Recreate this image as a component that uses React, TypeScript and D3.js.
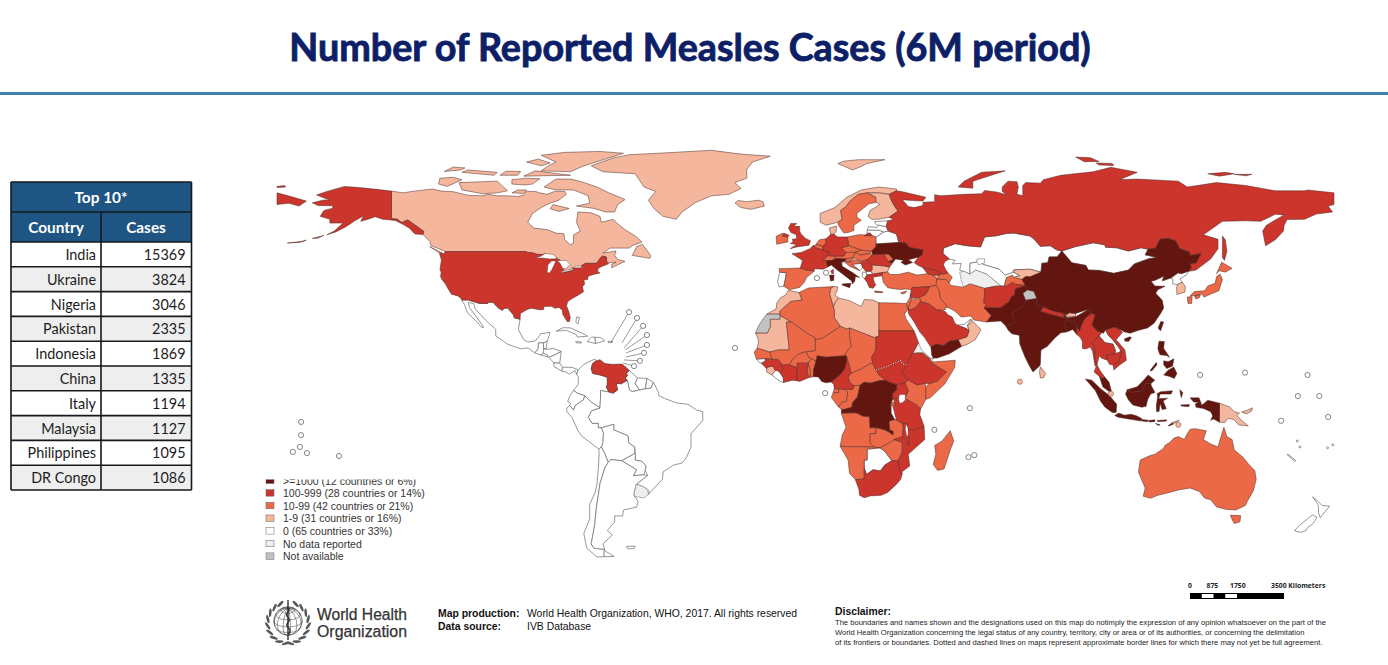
import * as d3 from "d3";

// class values, from the legend
const legendLabels = [
  ">=1000 (12 countries or 6%)",
  "100-999 (28 countries or 14%)",
  "10-99 (42 countries or 21%)",
  "1-9 (31 countries or 16%)",
  "0 (65 countries or 33%)",
  "No data reported",
  "Not available",
];
const legendColors = ["#63160f", "#cc352c", "#ec6947", "#f4b69c", "#ffffff", "#efefef", "#c2c2c2"];

const topCountries = ["India", "Ukraine", "Nigeria", "Pakistan", "Indonesia", "China", "Italy", "Malaysia", "Philippines", "DR Congo"];
const topCases = [15369, 3824, 3046, 2335, 1869, 1335, 1194, 1127, 1095, 1086];

const disclaimerLines = [
  "The boundaries and names shown and the designations used on this map do notimply the expression of any opinion whatsoever on the part of the",
  "World Health Organization concerning the legal status of any country, territory, city or area or of its authorities, or concerning the delimitation",
  "of its frontiers or boundaries. Dotted and dashed lines on maps represent approximate border lines for which there may not yet be full agreement.",
];
const scaleBarTicks = [0, 437.5, 875, 1312.5, 1750, 3500];
const scaleBarLabels = ["0", "875", "1750", "3500 Kilometers"];
const scaleBarLabelKm = [0, 875, 1750, 3500];

type Shape = [string, string[]];

// outlines are lon lat pairs, split in the seven legend classes
const over1000: Shape[] = [
  ["India", ["75 32.4,78.8 33,78.5 31,81 30.2,80 28.6,84 27.5,88.1 26.4,88 28,89 26.5,92 26.8,96.5 29.4,97.3 28,95 26,94 24,93.3 22,92.3 23.7,92 25,89.8 25.3,89 26,88.3 24.5,88.9 21.6,87 21.4,85 19.7,82.3 16.7,80.2 15.5,80 11,79.9 10.2,77.5 8,76.4 9.8,74.8 13,73 17.5,72.8 20.5,70.3 21,69 22.3,68.2 23.7,71 24.5,71 26,70 27.8,73 29.5,74.6 31"]],
  ["Bangladesh", ["88.3 24.5,89 26,89.8 25.3,92 25,92.3 23.7,92.4 20.8,91 22.5,88.9 21.6"]],
  ["Pakistan", ["60.9 29.8,66.4 29.9,69.3 31.9,70 33.5,71.2 34.3,71.5 36.3,74.9 37.4,75.5 36,74 34.7,74.7 33,75 32.4,74.6 31,73 29.5,70 27.8,71 26,71 24.5,68.2 23.7,66.5 25.4,61.7 25,63.3 27.2"]],
  ["China", [
    "73.7 39.5,75 40.5,76.5 40.4,80.2 42,80.5 45,82.5 45.2,83 47.2,85.7 47.2,87.3 49.2,90.7 45.2,95.5 44.3,96.3 42.7,100 42.6,105 41.6,110 42.7,112 44.8,117 46.6,119.8 47,115.7 47.9,116.7 49.8,119.3 50.2,120.7 53.2,123.5 53.5,126 52.7,127.5 50,130.7 48.9,131 47.7,134.7 48.3,133 45.1,131 44.9,131.3 43.4,130.6 42.4,128 41.5,126.9 41.8,124.4 40,121.5 39,122 40.6,119 39.2,117.7 38.9,119 37.3,122.5 37.2,120 36,119.3 34.8,121.5 32.4,121.8 30.9,122 29.8,121 28,118.7 24.6,116.5 23,113.5 22.2,110.5 21.2,108.5 21.7,106.7 22.7,105.3 23.3,102.2 22.4,101.5 21.2,99.2 22.1,97.6 24,98.7 27.5,97.3 28,96.5 29.4,92 27.9,89.8 28.2,88.8 27.4,88.1 27.9,84 28.9,81 30.2,78.5 31,78.8 33,77.8 35.5,75.5 36,74.9 37.4",
    "108.7 19.3,110.5 20,111 19.7,110 18.4,108.7 18.6",
    "120.1 23,121 25.2,122 25,120.9 22",
  ]],
  ["Yemen", ["42.7 16.4,43 16.7,44.5 17.5,47 17,49 18.5,52 19,53.1 16.7,49 14.2,45 12.8,43.5 12.7,43 13.7"]],
  ["Ukraine", ["22.5 49.1,24.1 50.8,23.9 51.6,31.8 52.1,34 52,35.5 50.4,38 49.9,40 49.6,39.7 47.9,38.5 47.1,35 46.2,36.5 45.3,34 44.4,32.5 45.4,33.5 46,30.7 46.5,29.7 45.2,28.2 45.5,30 46.4,28.2 48.2,26.6 48.2,22.9 48"]],
  ["Italy", [
    "7.4 43.7,7.6 44,7 45.9,9 46,10.4 46.7,13.7 46.5,13.5 45.7,12.3 45.3,12.5 44,16 41.9,18.4 40.2,17 40.5,16.8 39,16 38,15.7 39,12.5 41.5,10.5 43,8.8 44.4",
    "12.5 38,15.5 38.2,15 36.7,12.5 37.6",
    "8.2 41,9.7 41,9.6 39.2,8.5 39",
  ]],
  ["Nigeria", ["2.8 9,3.6 11.7,4 13.5,7 13,10 13.3,13.7 13.5,14 13,13.9 11.5,13.3 9,11.5 6.8,8.7 4.6,7 4.3,5.5 4.8,4.4 6.3,2.7 6.4"]],
  ["DR Congo", ["18.6 3.5,20 4.5,22 4.2,25 5,27.3 5.2,28.5 4.5,31 3.7,31 1.9,29.6 .5,29.6 -1.4,29 -2.8,29.1 -4.5,29.4 -6.5,30.7 -8.2,28.9 -8.5,28.4 -9.2,28.7 -11.8,29.8 -12.2,29.8 -13.4,28.4 -12.4,27 -11.7,24 -10.9,22 -11,21.8 -7.2,19.5 -7,17.6 -6,16.5 -5.9,12.2 -6,12.2 -4.7,13 -4.8,15.8 -4,16 -2.5,17.7 -.5"]],
  ["Malaysia", [
    "100.1 6.5,101 5.8,102 6.2,103.4 4.5,104.2 1.4,103.5 1.3,101.3 2.9,100.4 5.5",
    "109.6 2,111 1,113 1.4,114.7 1.5,115.8 4.2,117.7 4.2,119 5.2,116.7 7,115.3 5.4,113 3,111.3 2.5",
  ]],
  ["Philippines", [
    "120.4 18.5,122.2 18.4,122 16,124 13,123 13.6,120.7 13.9,120 16",
    "122 7,123.5 8.6,125.4 9.7,126.5 7.5,125.6 5.8,124 6.5",
    "122 11.8,123.5 11.5,125.5 12.5,125 10,123 9.2,122 10.5",
    "117.3 8.4,119.5 11.3,119.7 10.5,118 8.4",
  ]],
  ["Indonesia", [
    "95.3 5.6,97.5 5.2,100.5 2.3,103.5 0,106 -3,105.8 -5.8,104.5 -5.8,102 -4,100.5 -2,98.7 1.7",
    "105.3 -6.8,106.7 -6,108.6 -6.7,110.8 -6.4,112.7 -6.9,114.5 -7.8,114.4 -8.7,110 -8,106.5 -7.4",
    "109 .5,109.6 2,111 1,113 1.4,114.7 1.5,115.8 4.2,117.7 4.2,117.7 3.5,119 1,117.5 .5,116.5 -1.5,116 -3.7,114.5 -4,111.5 -3.2,110 -1.5",
    "119.8 .7,121 1.3,125 1.6,124.5 .5,120.8 .5,120.3 -1,122 -1,123.3 -.9,121.8 -1.9,122.9 -4.5,121.5 -4.8,120.8 -2.7,120.4 -5.5,119.5 -5.4,119.5 -3.3,119.9 -.8",
    "127.5 2,128.5 1,128 -.8,127.7 .5",
    "127.8 -3.2,130.8 -3.1,130.5 -3.8,128 -3.6",
    "131 -.8,134 -.8,135 -3.3,137 -1.6,141 -2.6,141 -9.1,139 -8,138 -8.4,138.7 -7,138 -5.5,135.5 -4.4,133 -4,132.8 -2.8,134 -2.3,132.2 -2.2",
    "114.6 -8.2,116.7 -8.4,116.5 -8.9,114.6 -8.7",
    "116.8 -8.5,119 -8.3,119 -8.9,117 -9",
    "119.8 -8.5,123 -8.3,122.9 -8.7,120 -8.9",
    "119.2 -9.5,120.8 -10,120.2 -10.2",
    "123.5 -10.3,125 -9.2,125 -9.9,124 -10.3",
  ]],
];

const over100: Shape[] = [
  ["USA", [
    "-124.7 48.4,-123 48.3,-122.8 49,-95.2 49,-94.6 48.7,-93 48.6,-91.5 48.1,-89.6 48,-88.4 48.3,-84.9 46.9,-84.5 46.5,-83.6 46.1,-83.5 45.8,-82.5 45.3,-82.1 43.6,-82.5 42.6,-83.1 42.1,-82.7 41.7,-79 42.7,-79 43.3,-79.2 43.5,-76.8 43.6,-76.3 44.2,-75 45,-71.5 45,-70.8 45.4,-70.3 46.2,-70 46.7,-69.2 47.45,-68.3 47.35,-67.8 47.1,-67.8 45.7,-67 44.9,-68.5 44.3,-70 43.7,-70.7 43,-70.8 42.3,-70 41.7,-71.5 41.4,-74 40.7,-74.2 39.5,-75.5 39.3,-75.2 38,-76 37,-75.6 35.3,-77.9 33.9,-79.5 33,-81 32,-81.4 30.5,-80.6 28.5,-80.1 26.5,-80.4 25.2,-81.2 25.2,-81.8 26.2,-82.7 27.7,-82.8 29,-84 30,-85.3 29.7,-86.5 30.4,-89 30.3,-89.3 29.2,-90.5 29.2,-93.5 29.7,-94.8 29.3,-97.1 27.9,-97.2 25.96,-99.1 26.4,-99.5 27.5,-101.4 29.77,-102.7 29.7,-103.2 29,-104.5 29.7,-106.5 31.75,-108.2 31.75,-108.2 31.33,-111 31.33,-114.8 32.5,-117.1 32.53,-117.3 33,-118.4 33.9,-120.6 34.5,-121.9 36.6,-122.5 37.8,-123.8 39.5,-124.3 40.4,-124.1 42,-124.5 42.8,-124 46.2",
    "-141 69.6,-141 60.3,-139 60,-137.5 58.9,-135.5 59.8,-133.5 58.4,-130 55.9,-130.3 54.8,-133 55,-135 57,-137 58.2,-139.7 59.6,-144 60,-146.5 60.9,-149 60,-151.5 59.3,-150.5 61.2,-153.5 59.5,-156.5 57.5,-160 55.7,-163 54.7,-160.5 56,-157.5 58.7,-162 58.7,-162 60,-165.3 61,-164 63,-161 63.8,-161 64.6,-166 64.7,-168 65.6,-164 66.6,-162 66.5,-166.5 68.3,-163 69.5,-157 71.2,-152 70.8,-146 70.2",
    "-176.5 51.9,-172 52.4,-170 52.9,-172 52.2",
    "-168 53.5,-165 54.2,-164 54.6,-166 53.6",
  ]],
  ["Russia", [
    "31 69.7,33 69.4,41 67.5,40 66.2,35 66.5,33 66.7,35 64.4,37 64,40 64.7,40 65.8,44 66,44 68.4,46 68,54 68.5,60 68.7,61 69.8,65 69.3,68.5 68.4,67 69.5,67 71,69 73,72 72.8,72.5 71,72 68.5,74 68,74 71.5,75 72.5,80 72.3,81 73.5,87 75,98 76.2,104 77.7,113 76,107 73.5,113 73.7,127 73,130 71,134 71.6,140 72.5,150 71.5,160 69.7,170 69.7,171 70,180 69,180 65,178 64.5,179.5 62.5,174 61.8,170 60,164 59.9,163 57.8,162.8 56,160 53,156.7 51,155.7 56,157 58,163 61.5,160 61.7,155 59.3,150 59.5,142 59.3,135.5 54.7,140.5 53.2,140.5 50,138 46.5,133 42.7,130.7 42.3,131.3 43.4,131 44.9,133 45.1,134.7 48.3,131 47.7,130.7 48.9,127.5 50,126 52.7,123.5 53.5,120.7 53.2,119.3 50.2,116.7 49.8,114.3 50.3,110 49.2,106 50.3,102.2 50.5,102 51.3,98 52,92 50.7,87.3 49.2,85.5 49.6,83.4 51,80 50.8,77.8 53.3,76.5 54.3,71 55.3,68.5 55.2,65 54.4,61 54,59.6 50.6,55 51,51 51.7,47 50.2,46.8 48.4,49 46.5,47.5 45.6,47 44.5,47.7 43,48.5 41.8,47 41.3,44 42.7,40 43.5,38 44.5,37 45.3,38.5 47.1,39.7 47.9,40 49.6,38 49.9,35.5 50.4,34 52,31.8 52.1,31 55,28.2 56,27.5 57.5,28 59.5,30 59.9,28.5 60.7,31.5 62.8,30 65,29 67,28.5 68.5",
    "-180 69,-175 67.7,-170 66.2,-172.5 64.5,-176 65.5,-180 65",
    "-180 71.2,-177.5 71.5,-177 71,-180 70.8",
    "52 71,57 70.6,57 73,68 76.5,60 76,54 73",
    "92 81.2,97 81,100 79.7,95 79.6",
    "99 79.2,104.5 79,105 78.3,100 78.5",
    "137 75.5,143 76,146 75.5,141 74.7",
    "146 75.3,152 75.3,150 74.8",
    "142 54.3,143 53,143.5 49,142.7 46,142 47,142 50.5",
    "20 54.4,22.8 54.4,22 55.3,21 55.2",
  ]],
  ["Venezuela", ["-72.5 10.9,-71.3 11.8,-70 12.2,-68.3 10.9,-66 10.6,-62.5 10.7,-61 9.5,-60 8.5,-61 7.5,-60.6 6.8,-61.4 5.9,-60.7 5.2,-62.7 4,-64.5 4.1,-64 1.9,-65.5 .8,-66.3 1,-67 1.2,-67.8 2.8,-67.5 3.8,-67.5 6.2,-70 7,-72.5 7.5,-73 9.2"]],
  ["UK", [
    "-5.2 50,-3 50.6,1.2 51.2,1.7 52.7,0 53.5,-1.5 55,-2 56,-2 57.6,-4 57.6,-3 58.6,-5 58.6,-5.8 57,-5 55.5,-3.2 54.8,-3 53.4,-4.5 53.2,-4.2 52.2,-5.2 51.8,-3 51.4",
    "-7.2 55.2,-5.6 54.6,-6 54,-7.8 54.3",
  ]],
  ["France", [
    "-1.8 43.4,-1 46,-4.6 48.3,-1.5 48.7,1.5 50,2.5 51,4.2 50,5.8 49.6,8.2 49,7.6 47.6,6 46.2,7 45.9,7.6 44,7.4 43.7,6 43,3 43.2,3 42.4,.5 42.7",
    "8.6 42.4,9.5 43,9.5 41.5,9 41.5",
  ]],
  ["Germany", ["6 50.8,7 52,7 53.4,8.6 54.9,9.7 54.9,11 54,14.2 54,14.7 51,12.2 50.3,13.8 48.7,13 47.5,9.6 47.5,7.6 47.6,8.2 49,5.8 49.6"]],
  ["Romania", ["21 46.2,22.9 48,26.6 48.2,28.2 45.5,29.7 45.2,28.6 43.7,27 44.1,22.6 44.5"]],
  ["Serbia", ["19 45.6,21 46.2,22.6 44.5,22.7 43,22.3 42.3,20.5 42.3,19.5 43.5,19 45"]],
  ["Greece", [
    "20.1 39.7,20.9 41,22.9 41.3,26.3 41.9,26 40.8,23 40.3,23.5 38.3,24 37.7,23 36.5,21.7 36.8,21 38.5",
    "23.6 35.6,26.3 35.3,26.2 35,23.6 35.2",
  ]],
  ["Georgia", ["40 43.5,44 42.7,46.5 41.5,45.5 41,43.5 41,41.5 41.5"]],
  ["Saudi Arabia", ["34.9 29.5,36 29.2,37.5 30,38 30.5,39.2 32,42 31.2,44.7 29.2,46.5 29,47.7 28.5,48.5 27.5,50 26.7,50.8 24.8,51.6 24,55 22.7,55.7 22,55 20,52 19,49 18.5,47 17,44.5 17.5,43 16.7,42.7 16.4,40.5 19.8,39 21.5,37 25,35 28"]],
  ["Syria", ["36.2 36.7,38 36.8,42.3 37.1,41 34.5,38.8 33.4,36 33,35.8 34.7,36 36"]],
  ["Afghanistan", ["61 36.5,64.5 37.2,66.5 37.3,68.5 37.2,70.5 38.5,71.5 37.9,74.9 37.4,71.5 36.3,71.2 34.3,70 33.5,69.3 31.9,66.4 29.9,60.9 29.8,61.7 31.3,60.7 31.5,61 34.5"]],
  ["Nepal", ["80 28.6,81 30.2,84 28.9,88.1 27.9,88.1 26.4,84 27.5"]],
  ["Myanmar", ["92.4 20.8,92.3 23.7,93.3 22,94 24,95 26,97.3 28,98.7 27.5,97.6 24,99.2 22.1,101 21.7,100 20.3,97.7 18,98.7 16,98.5 13,99.2 10.5,98.6 10,97.8 15,97 16.5,95.4 15.8,94.3 16,94.3 18.5,93.5 19.8"]],
  ["Thailand", ["97.7 18,100 20.3,102 18,104.7 17.5,105.5 15.5,105.5 14.2,102.5 13.8,102.8 12,100.9 12.7,100 13.5,99.3 10.5,100.3 8.5,102 6.2,101 5.8,100.1 6.5,98.3 8,99.2 10.5,98.5 13,98.7 16"]],
  ["Vietnam", ["102.2 22.4,105.3 23.3,106.7 22.7,108 21.5,105.8 19,108.8 15.5,109.3 12,107 10.4,105 8.7,104.8 10.4,106.8 11.6,107.5 15,106.8 16.3,104.9 18.7,103 20.7"]],
  ["Cambodia", ["102.8 12,103.5 10.6,104.8 10.4,106.8 11.6,107.5 15,105.5 14.2,102.5 13.8"]],
  ["Sudan", ["24 20,25 20,25 22,37 22,38.5 18,36.5 14.3,34.3 10.5,33 10.8,32.5 12,27 9.6,24 8.7,22.9 11,22.5 13,24 15.5,24 19.5"]],
  ["South Sudan", ["24 8.7,27 9.6,32.5 12,33 10.8,34.3 10.5,33 7.8,35 5.3,33.9 4.2,31 3.7,28.5 4.5,27.3 5.2,25 7"]],
  ["Ethiopia", ["34.3 10.5,36.5 14.3,38 14.5,40 14.5,42.4 12.5,43 11.5,42.9 11,44 10.4,48 8,45 5,42 4,40.8 4.2,38 3.6,35 5.3,33 7.8"]],
  ["Uganda", ["31 3.7,33.9 4.2,35 1.7,33.9 -1,30 -1,29.6 -1.4,29.6 .5,31 1.9"]],
  ["Tanzania", ["30 -1,33.9 -1,37.7 -3.2,39.2 -4.6,38.9 -6.5,39.5 -8,40.4 -10.5,37.5 -11.6,34.5 -11.6,34.5 -9.6,32.9 -9.4,30.7 -8.2,29.4 -6.5,29.1 -4.5,30.5 -3,30.5 -2.4"]],
  ["Malawi", ["33.3 -10.8,32.9 -9.4,34.5 -9.6,34.5 -12,35.5 -14.5,35.2 -17,34.3 -15.5,33 -14"]],
  ["Mozambique", ["34.5 -11.6,37.5 -11.6,40.4 -10.5,40.6 -15,35 -20,35.5 -24,32.9 -26,32.9 -26.9,32 -25.8,31.5 -22.3,32.9 -19.5,33 -16,30.2 -15,33 -14,34.3 -15.5,35.2 -17,35.5 -14.5,34.5 -12"]],
  ["South Africa", ["17 -28.7,20 -28.4,20 -24.8,20.8 -26.9,23 -25.3,25.5 -25.7,27 -23.7,29.4 -22.2,31.5 -22.3,32 -25.8,32.9 -26.9,32.4 -28.6,31 -30.2,28 -33,25.7 -34,22 -34.2,20 -34.8,18.4 -34,18.2 -32"]],
  ["Cameroon", ["8.7 4.6,11.5 6.8,13.3 9,13.9 11.5,14 13,15 10,15.5 7.5,14.5 6.3,15 4.5,16.5 3.3,16 2,13.2 2.2,9.8 2.3,9.6 3.8"]],
  ["Guinea", ["-13.7 12.6,-11.4 12.3,-9.5 12.3,-8.5 11.4,-8 10.3,-7.7 8.4,-8.5 7.6,-9.5 8.5,-10.3 8.5,-11 10,-12.5 9.8,-13.3 9.2,-15 10.9,-13.7 11.7"]],
  ["Cote d'Ivoire", ["-8.5 7.6,-7.7 8.4,-8 10.3,-6.2 10.5,-5.5 10.4,-2.8 9.5,-2.9 5,-4.5 5.2,-7.5 4.4,-7.5 5.9"]],
  ["Ghana", ["-2.8 11,.9 11,.5 8,1.2 6.1,-2 4.8,-2.9 5,-2.8 9.5"]],
];

const over10: Shape[] = [
  ["Spain", ["-9 43.2,-1.8 43.4,.5 42.7,3 42.4,.2 40,-.3 38.7,-2 36.8,-5.5 36,-7.4 37.2,-7 39,-6.5 41.8,-8.8 42"]],
  ["Ireland", ["-10 54.2,-8 55.2,-7.2 55.2,-7.8 54.3,-6 54,-6 52.3,-9.8 51.5"]],
  ["Sweden", ["11 59,12.5 60,12.3 61,12 63,14 64.5,15 66,18 68.5,21 69,23.9 67.5,24 65.8,21.5 65.2,17.5 62,17.5 60.7,19 59.7,16.5 58,16.5 56.2,14.2 55.4,13 55.4,11.2 58"]],
  ["Belgium", ["2.5 51,4.2 51.4,6 50.8,5.8 49.6,4.2 50"]],
  ["Netherlands", ["3.5 51.4,4.7 53,7 53.4,7 52,6 50.8,4.2 51.4"]],
  ["Switzerland", ["6 46.2,7.6 47.6,9.6 47.5,10.4 46.7,9 46,7 45.9"]],
  ["Austria", ["9.6 47.5,13 47.5,13.8 48.7,17 48.8,16.2 46.9,13.7 46.5,10.4 46.7"]],
  ["Poland", ["14.2 54,18.5 54.8,22.8 54.4,23.9 54,24.1 50.8,22.5 49.1,19 49.5,14.7 51"]],
  ["Czechia", ["12.2 50.3,14.7 51,19 49.5,17 48.8,13.8 48.7"]],
  ["Slovakia", ["17 48.8,19 49.5,22.5 49.1,22 48.4,18.5 47.8"]],
  ["Hungary", ["16.2 46.9,17 48.8,18.5 47.8,22 48.4,22.9 48,21 46.2,18.5 45.9"]],
  ["Slovenia", ["13.7 46.5,16.2 46.9,15.5 45.5,13.5 45.5"]],
  ["Croatia", ["13.5 45.3,15.5 45.5,16.2 46.3,19 45.6,19 45,15.8 44.7,18.5 42.5,15 44"]],
  ["Moldova", ["26.6 48.2,28.2 48.2,30 46.4,28.2 45.5"]],
  ["Turkey", ["26 40.6,26.3 41.9,28 42,29 41.2,31.5 41.2,35 42,38 41,41.5 41.5,43.5 41,44.7 39.7,44.5 37.5,42.3 37.1,38 36.8,36.2 36.7,36 36,34 36.3,32.5 36.1,30.5 36.3,28 36.7,26.5 38.5,26.2 40"]],
  ["Cyprus", ["32.4 35,34.5 35.6,33.9 34.8,32.8 34.6"]],
  ["Iraq", ["42.3 37.1,44.5 37.5,45.5 35.8,46 33,47.8 31,48.5 30,47.7 30,47.7 29.3,46.5 29,44.7 29.2,42 31.2,39.2 32,38.8 33.4,41 34.5"]],
  ["Jordan", ["35 29.5,36 29.2,37.5 30,38 30.5,39.2 32,38.8 33.4,36 32.4,35.5 31.5"]],
  ["Israel, Lebanon", ["34.3 31.3,35.5 33.2,35.8 34.7,36 33,36 32.4,35.5 31.5,34.9 29.5"]],
  ["Iran", ["44.7 39.7,48 39.5,48.9 38.4,49.5 37.5,53.8 36.9,56 38,61 36.5,61 34.5,60.7 31.5,61.7 31.3,60.9 29.8,63.3 27.2,61.7 25,57.3 25.7,56.3 27.1,53 26.7,50.8 28.8,48.5 30,47.8 31,46 33,45.5 35.8,44.5 37.5"]],
  ["Azerbaijan", ["46.5 41.5,47 41.3,48.5 41.8,50 40.3,48.9 38.4,48 39.5,44.7 39.7,45.5 41"]],
  ["Tajikistan", ["67.7 37.2,68.5 40.2,70.5 41,71 40.2,73.7 39.5,74.9 37.4,71.5 37.9,70.5 38.5,68.5 37.2"]],
  ["Japan", [
    "131 34,132.5 35.4,136 35.7,137 37.3,139.5 38.2,140 40.5,141.2 41.3,142 39.5,140.8 35.7,138.5 34.7,135.7 33.5,135 34.6,132.5 34",
    "130 33.5,131.7 33.7,131.5 31.3,130.3 31.3",
    "132.5 33.9,134.5 34.2,134.2 33.4,133 32.8",
    "140 41.5,141.7 45.4,145.3 43.3,143 42,141 42.5",
  ]],
  ["Australia", [
    "113.4 -26,114 -22,117 -20.6,119 -20,122 -18,122.4 -17,124 -16,125.5 -14.5,127 -14,129 -15,130 -13,131 -11.5,132.7 -11.3,136.5 -12,136 -13.5,135.5 -15,138 -16.5,140.5 -17.5,141.5 -14,142.5 -10.8,143.5 -14,145.3 -15,146 -18.5,149 -21,151 -23.5,153 -25.5,153.5 -28.5,152.5 -32.5,150.5 -36,149.8 -37.5,146.5 -39,143.5 -38.8,140 -38,138 -35.5,136 -35,135.7 -34.7,134.3 -32.8,131 -31.5,127 -32.2,124 -33,120 -34,117.5 -35,115 -34.3,115.7 -31.5,114.2 -28",
    "144.7 -40.8,148.2 -40.9,148 -43,146 -43.6,145.2 -42",
  ]],
  ["Algeria", ["-1.7 34,-2.2 35.1,1 36.6,9.5 37.1,8.6 36.5,8.2 34.5,9.5 30.2,9.8 29,9.8 26.5,11.9 23.5,5.8 19.5,3.3 19,3.1 19.8,1.1 20.8,-4.8 25,-8.7 27.3,-8.7 28.7,-5 32,-1.2 32.5"]],
  ["Egypt", ["25 31.6,31 31.5,34.2 31.3,34.9 29.5,34 28,33.6 28.2,34.3 26,37 22,25 22"]],
  ["Chad", ["15 23,24 19.5,24 15.5,22.5 13,22.9 11,22 10.8,19 9,15.5 7.5,15 10,14 13,13.5 14.3,15.5 16.8,15 20"]],
  ["Central African Republic", ["14.5 6.3,15.5 7.5,19 9,22 10.8,22.9 11,24 8.7,25 7,27.3 5.2,25 5,22 4.2,20 4.5,18.6 3.5,16.5 3.3,15 4.5"]],
  ["Niger", ["11.9 23.5,14.2 22.6,15 23,15 20,15.5 16.8,13.5 14.3,14 13,13.7 13.5,10 13.3,7 13,4 13.5,3.6 11.7,2 12.5,1 13,.2 14.9,3.3 15.3,3.3 19,5.8 19.5"]],
  ["Mali", ["-4.8 25,1.1 20.8,3.1 19.8,3.3 19,3.3 15.3,.2 14.9,-2 14.2,-3 13.6,-4.5 12.2,-5.5 10.4,-6.2 10.5,-8 10.3,-8.5 11.4,-9.5 12.3,-11.4 12.3,-12.2 14.8,-9.3 15.5,-5.5 15.5,-6.5 25"]],
  ["Senegal", ["-16.5 16.1,-12.2 14.8,-11.4 12.3,-13.7 12.6,-16.7 12.4,-17.5 14.7"]],
  ["Burkina Faso", ["-5.5 10.4,-4.5 12.2,-3 13.6,-2 14.2,.2 14.9,1 13,2 12.5,.9 11,-2.8 11,-2.8 9.5"]],
  ["Togo", [".9 11,1.6 9,1.7 6.2,1.2 6.1,.5 8"]],
  ["Benin", [".9 11,2 12.5,3.6 11.7,2.8 9,2.7 6.4,1.7 6.2,1.6 9"]],
  ["Equatorial Guinea", ["9.8 2.3,11.3 2.2,11.3 1,9.4 1"]],
  ["Gabon", ["9.4 1,11.3 1,11.3 2.2,13.2 2.2,14.4 1.2,14 -2,12.5 -2.3,11.2 -3.9,8.8 -.7"]],
  ["Congo", ["13.2 2.2,16 2,16.5 3.3,18.6 3.5,17.7 -.5,16 -2.5,15.8 -4,13 -4.8,12.2 -4.7,11.2 -3.9,12.5 -2.3,14 -2,14.4 1.2"]],
  ["Angola", ["12.2 -6,16.5 -5.9,17.6 -6,19.5 -7,21.8 -7.2,22 -11,24 -10.9,24 -13,22 -13,22 -16.2,23.4 -17.6,20 -17.5,13.9 -17.4,11.8 -17.3,12.5 -13.5,13.8 -10.8,13 -8.5"]],
  ["Zambia", ["24 -10.9,27 -11.7,28.4 -12.4,29.8 -13.4,29.8 -12.2,28.7 -11.8,28.4 -9.2,28.9 -8.5,30.7 -8.2,32.9 -9.4,33.3 -10.8,33 -14,30.2 -15,28.9 -16,25.3 -17.8,23.4 -17.6,22 -16.2,22 -13,24 -13"]],
  ["Namibia", ["11.8 -17.3,13.9 -17.4,20 -17.5,23.4 -17.6,25.3 -17.8,21 -18.3,21 -22,20 -22,20 -28.4,17 -28.7,15 -26.5,14.5 -22"]],
  ["Zimbabwe", ["25.3 -17.8,28.9 -16,30.2 -15,33 -16,32.9 -19.5,31.5 -22.3,29.4 -22.2,27 -19"]],
  ["Burundi", ["29 -2.7,30.8 -2.4,30.2 -4.2,29.3 -4.4"]],
  ["Kenya", ["33.9 4.2,35 5.3,38 3.6,40.8 4.2,41 2.8,41 -1.3,39.2 -4.6,37.7 -3.2,33.9 -1,35 1.7"]],
  ["Somalia", ["42.9 11,43.3 11.4,51 12,50.8 9.5,47.5 4,42.5 -.8,41 -1.3,41 2.8,42 4,45 5,48 8,44 10.4"]],
  ["Madagascar", ["49.3 -12,50.5 -15.5,49.5 -18,47.2 -25,45 -25.5,43.5 -23.5,44.4 -20,44 -17,46.5 -15.5"]],
];

const over1: Shape[] = [
  ["Canada", [
    "-141 69.6,-137 69,-134 69.5,-130 70,-127 70.3,-124 69.6,-120 69.4,-115 68.2,-110 68,-108 68.5,-105 68,-102 68,-98 67.8,-96 68.2,-95 69.5,-92 69.5,-90.5 69,-88 68.5,-85.5 69.5,-82 69.5,-81.5 68.5,-84 66.5,-87 65.5,-90 64,-93 62,-94.6 59,-92.5 57,-88 56.5,-85 55.3,-82.3 55.1,-82 53,-80 51.3,-79 52,-79 54.7,-76.7 56,-78 59,-77.5 62.5,-73 62.2,-70 61,-69.5 59,-65.5 60,-64 58.5,-61.5 56.5,-57.5 54,-55.7 52.2,-58.7 51.2,-60 50.2,-66.5 50.2,-69 48.5,-64.5 49.2,-65 47.8,-64 46.3,-61.5 45.7,-66 43.5,-66 44.7,-64.5 45.4,-67 45.2,-67.8 45.7,-67.8 47.1,-68.3 47.35,-69.2 47.45,-70 46.7,-70.3 46.2,-70.8 45.4,-71.5 45,-75 45,-76.3 44.2,-76.8 43.6,-79.2 43.5,-79 43.3,-79 42.7,-82.7 41.7,-83.1 42.1,-82.5 42.6,-82.1 43.6,-82.5 45.3,-83.5 45.8,-83.6 46.1,-84.5 46.5,-84.9 46.9,-88.4 48.3,-89.6 48,-91.5 48.1,-93 48.6,-94.6 48.7,-95.2 49,-122.8 49,-123.2 49.3,-125 50,-127.5 51,-128 52.5,-130.3 54.8,-130 55.9,-133.5 58.4,-135.5 59.8,-137.5 58.9,-139 60,-141 60.3",
    "-61.5 66.7,-64 65,-65 62.5,-68 62.5,-72 63.7,-78 64.5,-73.5 65.5,-74 68,-79 70,-85 70,-89 71,-85 73.7,-80 73.7,-76 72.7,-71 71,-67 69,-62 67",
    "-117 70,-110 68.7,-105 69,-101.5 69.7,-105 73,-110 72.8,-118 72.5",
    "-125 72,-122 71.2,-117 73.5,-120 74.3,-124.5 74",
    "-100 72,-96 71.7,-93 72,-90.5 73.8,-95 74,-100 73.5",
    "-90 76.5,-80 76.2,-76 78,-73 79,-65 81.5,-62 82.5,-70 83.1,-82 82.8,-90 81.8,-85 79.5,-88 78",
    "-95 79.5,-91 80.5,-87 79.2,-90 78.2",
    "-92 76.5,-80 75,-96 74.7",
    "-117 76,-106 75,-105 76,-115 76.8",
    "-123 76.3,-117.5 76.8,-116 77.5,-120 77.8",
    "-104 75,-98 75,-97 76.3,-102 76.4",
    "-100 69,-96 68.8,-95 70,-98 70",
    "-86 65,-80.5 63.7,-84 62.7,-87 63.6",
    "-59 47.7,-53 46.7,-52.7 47.6,-55.5 51.5,-57.5 50.7",
    "-128 50.7,-123.5 48.4,-125 48.7",
  ]],
  ["Greenland", ["-73 78.2,-69 76.2,-58 75.5,-55 71,-51 69.5,-53.5 66.5,-51.5 63.5,-48.5 61,-44 60,-42 62.5,-37.5 65.7,-32 68,-26 68.5,-22 70.5,-24 72.5,-20 74,-20 77,-18 79.5,-12 81.5,-22 82.2,-32 83.5,-50 82.5,-60 82,-65 81,-68 80"]],
  ["Iceland", ["-24 65.5,-22 64,-18.5 63.4,-14 64.5,-14.5 66,-16 66.5,-20 66,-23 66.4"]],
  ["Norway", [
    "7 58,5 59,5 62,10 64,14 67.5,19 70,25 71,31 70.3,31 69.7,28.5 68.5,25 69,21 69,18 68.5,15 66,14 64.5,12 63,12.3 61,12.5 60,11 59",
    "11 79,16 76.8,19 78,21 79,27 80.3,18 80.3,13 79.8",
  ]],
  ["Finland", ["21 69,25 69,28.5 68.5,29 67,30 65,31.5 62.8,28.5 60.7,25 60,22.5 60,21.3 61,22 63,25.3 65,24 65.8,23.9 67.5"]],
  ["Denmark", ["8.1 57,10.5 57.7,10.5 56,9.7 54.9,8.6 54.9"]],
  ["Bulgaria", ["22.6 44.5,27 44.1,28.6 43.7,27.9 42,26.3 41.9,22.9 41.3,22.3 42.3,22.7 43"]],
  ["Armenia", ["43.5 41,45.5 41,46.5 39,44.7 39.7"]],
  ["Kyrgyzstan", ["71 42,71 42.8,76.5 43,80.2 42,76.5 40.4,75 40.5,73.7 39.5,70 40,71 40.2,73 40.8"]],
  ["Oman", ["55 20,55.7 22,55.2 24,56.4 24.8,56.3 26,58.6 23.6,59.8 22.5,57.8 19,55.2 17.5,53.1 16.7,52 19"]],
  ["Bhutan", ["88.8 27.4,89.8 28.2,92 27.9,92 26.9,88.8 26.8"]],
  ["Sri Lanka", ["80 9.8,81.8 7.5,81 6,80 6,79.7 8"]],
  ["South Korea", ["126.7 37.8,128.3 38.6,129.4 37,129.2 35.2,126.5 34.4,126.4 36.8"]],
  ["Timor-Leste", ["125 -9.2,127.3 -8.4,126.5 -9,125 -9.9"]],
  ["Papua New Guinea", [
    "141 -2.6,144.5 -3.9,146 -5.5,147.8 -6,146.9 -6.8,148 -8,150.8 -10.4,147.5 -10,146 -8.3,144 -7.7,142.8 -9.2,141 -9.1",
    "148.5 -5.6,150 -5.2,152.2 -4.2,152 -5.3,150.2 -6.3",
  ]],
  ["Morocco", ["-5.9 35.8,-2.2 35.1,-1.7 34,-1.2 32.5,-5 32,-8.7 28.7,-8.7 27.7,-13.2 27.7,-10 29.5,-9.8 31.5,-8.5 33.3,-6.8 34.2"]],
  ["Mauritania", ["-17 21.3,-13 21.3,-12 23.4,-12 26,-8.7 26,-8.7 27.3,-4.8 25,-6.5 25,-5.5 15.5,-9.3 15.5,-12.2 14.8,-16.5 16.1,-16 18,-16.2 19.5"]],
  ["Tunisia", ["8.6 36.5,9.5 37.1,11 37,10.7 35.5,10 34.3,11.3 33.2,10.2 31.8,9.5 30.2,8.2 34.5"]],
  ["Libya", ["11.3 33.2,15 32.3,19 30.3,20 32.7,23 32.5,25 31.6,25 20,24 20,24 19.5,15 23,14.2 22.6,11.9 23.5,9.8 26.5,9.8 29,9.5 30.2,10.2 31.8"]],
  ["Sierra Leone", ["-13.3 9.2,-12.5 9.8,-11 10,-10.3 8.5,-11.5 7,-13.2 8"]],
  ["Rwanda", ["29 -1.4,30.5 -1.1,30.8 -2.3,29 -2.7"]],
];

const zeroCases: Shape[] = [
  ["Mexico", ["-117.1 32.53,-114.8 32.5,-111 31.33,-108.2 31.33,-108.2 31.75,-106.5 31.75,-104.5 29.7,-103.2 29,-102.7 29.7,-101.4 29.77,-99.5 27.5,-99.1 26.4,-97.2 25.96,-97.8 22.5,-96 19,-94.5 18.2,-92 18.6,-90.5 20.5,-90.3 21,-87 21.5,-87.6 19.5,-88 18.5,-89 17.9,-91 17.9,-91 16,-92.2 14.5,-94.5 16.2,-97 15.9,-101.5 17.5,-105.5 20.3,-105.5 22.5,-109 25.7,-112.5 29.5,-113 31.3,-114.8 31.7,-114.5 30,-111.5 26,-109.6 23.2,-110.3 23.2,-112 25.2,-115 28,-116.2 31"]],
  ["Guatemala", ["-92.2 14.5,-91 16,-91 17.9,-89.2 17.9,-89.2 15.9,-88.2 15.7,-89.3 14.4,-90.2 13.8"]],
  ["Belize", ["-89.2 17.9,-88 18.5,-88.3 16,-89.2 15.9"]],
  ["Honduras", ["-89.2 15.9,-88.2 15.7,-86 16,-83.2 15,-85 14,-87.4 13,-89.3 14.4"]],
  ["El Salvador", ["-90.2 13.8,-89.3 14.4,-87.8 13.8,-87.8 13.2"]],
  ["Nicaragua", ["-87.4 13,-85 14,-83.2 15,-83.7 11,-85.7 11.1"]],
  ["Costa Rica", ["-85.7 11.1,-83.7 11,-82.7 9.6,-83 8.3,-85.7 9.9"]],
  ["Panama", ["-83 8.3,-82.7 9.6,-79.5 9.6,-77.4 8.7,-77.9 7.2,-78.5 8.5,-80.4 7.3,-81.7 8"]],
  ["Cuba", ["-84.9 21.9,-82.5 23.1,-80 23,-75 20.7,-74.2 20.2,-77.7 19.9,-78 20.7,-81.5 22.2"]],
  ["Haiti", ["-74.4 18.4,-72.8 19.9,-71.7 19.8,-71.5 17.7"]],
  ["Dominican Republic", ["-71.7 19.8,-69.9 19.8,-68.4 18.6,-71.5 17.7"]],
  ["Jamaica", ["-78.3 18.4,-76.3 18.2,-76.3 17.9,-78 17.9"]],
  ["Puerto Rico", ["-67.2 18.5,-65.7 18.4,-65.8 18,-67.2 18"]],
  ["Bahamas", ["-78 26.7,-77 26.6,-77.5 24.3,-78.2 25"]],
  ["Colombia", ["-77.9 7.2,-77.4 8.7,-75.6 10.5,-74.2 11.3,-71.7 12.4,-71.3 11.8,-72.5 10.9,-73 9.2,-72.5 7.5,-70 7,-67.5 6.2,-67.5 3.8,-67.8 2.8,-67 1.2,-69.8 1.7,-69.8 -.5,-70 -4.2,-70.7 -3.7,-72.8 -2.4,-75.2 -.1,-77.7 .8,-79 1.7,-77.4 3.8,-77.4 6.5"]],
  ["Guyana", ["-60 8.5,-57.2 6,-58 4,-56.5 1.9,-59 1.3,-60 2,-60.7 5.2,-61.4 5.9,-60.6 6.8,-61 7.5"]],
  ["Suriname", ["-57.2 6,-54 5.8,-54.5 2.3,-56.5 1.9,-58 4"]],
  ["French Guiana", ["-54 5.8,-51.8 4.5,-52.6 2.5,-54.5 2.3"]],
  ["Brazil", ["-51.8 4.5,-50 1,-50 0,-48 -1,-44 -2.5,-40 -3,-37 -5,-35 -5.5,-35 -8.5,-39 -13,-39 -17.5,-40.5 -21,-42 -23,-45 -23.7,-48.5 -26,-48.7 -28.5,-51.5 -31.5,-53.5 -33.7,-53.2 -32.7,-53.8 -32,-55.6 -30.9,-57.6 -30.2,-53.8 -27.2,-54.6 -25.5,-54.3 -24,-55.8 -22.4,-58 -22,-57.9 -20,-58.2 -17.5,-60.2 -16.2,-60.5 -13.7,-65.3 -11.7,-65.3 -9.8,-69.5 -11,-70.6 -11,-70.6 -9.5,-72.7 -9.5,-74 -7.5,-72.9 -5.2,-70 -4.2,-69.8 -.5,-69.8 1.7,-67 1.2,-66.3 1,-65.5 .8,-64 1.9,-64.5 4.1,-62.7 4,-60.7 5.2,-60 2,-59 1.3,-56.5 1.9,-54.5 2.3,-52.6 2.5"]],
  ["Ecuador", ["-79 1.7,-77.7 .8,-75.2 -.1,-75.6 -1.5,-78.4 -3.4,-79 -5,-80.3 -3.4,-80 -2.7,-81 -2,-80.2 0"]],
  ["Peru", ["-80.3 -3.4,-79 -5,-78.4 -3.4,-75.6 -1.5,-75.2 -.1,-72.8 -2.4,-70.7 -3.7,-70 -4.2,-72.9 -5.2,-74 -7.5,-72.7 -9.5,-70.6 -9.5,-70.6 -11,-69.5 -11,-68.8 -12.7,-69 -16.3,-69.5 -17.5,-70.4 -18.3,-72 -17,-76 -14,-77.5 -12,-79.5 -7.5,-81.3 -5.5,-81.3 -4.3"]],
  ["Bolivia", ["-69.5 -11,-65.3 -9.8,-65.3 -11.7,-60.5 -13.7,-60.2 -16.2,-58.2 -17.5,-58.2 -19.8,-62.6 -22.2,-66.3 -21.8,-67.2 -22.8,-68.5 -19.5,-69.5 -17.5,-69 -16.3,-68.8 -12.7"]],
  ["Paraguay", ["-58.2 -19.8,-57.9 -20,-58 -22,-55.8 -22.4,-54.3 -24,-54.6 -25.5,-55 -27,-58.6 -27.3,-57.6 -25.3,-62.6 -22.2"]],
  ["Chile", ["-70.4 -18.3,-69.5 -17.5,-68.5 -19.5,-67.2 -22.8,-68.3 -24.5,-70 -30,-70.5 -33.5,-71.2 -38,-71.8 -44,-72.5 -48,-73 -50.5,-72 -52,-68.4 -52.4,-68.6 -54.9,-71 -55,-74.5 -52,-75.5 -47,-73.5 -42,-73.5 -37,-71.6 -33,-71 -30,-70.5 -24,-70.3 -20"]],
  ["Argentina", [
    "-67.2 -22.8,-66.3 -21.8,-62.6 -22.2,-57.6 -25.3,-58.6 -27.3,-55 -27,-53.8 -27.2,-57.6 -30.2,-58.4 -33.5,-58.4 -34.2,-57 -36,-57.5 -38,-62 -39,-62.3 -41,-65 -41,-65 -43,-67.5 -46,-65.8 -47.5,-69 -50.5,-68.4 -52.4,-72 -52,-73 -50.5,-72.5 -48,-71.8 -44,-71.2 -38,-70.5 -33.5,-70 -30,-68.3 -24.5",
    "-68.6 -52.7,-65.2 -54.8,-68.6 -54.9",
  ]],
  ["Falklands", ["-61 -51.4,-58 -51.3,-58.5 -52.2,-60.5 -52.2"]],
  ["Portugal", ["-8.8 42,-6.5 41.8,-7 39,-7.4 37.2,-9 37,-9.5 38.7"]],
  ["Liberia", ["-11.5 7,-10.3 8.5,-9.5 8.5,-8.5 7.6,-7.5 5.9,-7.5 4.4,-9 5"]],
  ["Gambia", ["-16.8 13.6,-14 13.6,-14 13.2,-16.8 13.2"]],
  ["Guinea-Bissau", ["-16.7 12.4,-13.7 12.6,-13.7 11.7,-15.5 11"]],
  ["Botswana", ["20 -22,21 -22,21 -18.3,25.3 -17.8,27 -19,29.4 -22.2,27 -23.7,25.5 -25.7,23 -25.3,20.8 -26.9,20 -24.8"]],
  ["Lesotho", ["27 -29.6,28.3 -28.7,29.3 -29.7,28.2 -30.6"]],
  ["Swaziland", ["31 -26,32 -25.9,32 -27.2,31 -27.2"]],
  ["Djibouti", ["41.8 12.7,43.3 12.6,43.3 11.4,42.9 11,41.8 11.2"]],
  ["Albania", ["19.3 42,20.6 42,20.9 41,20.1 39.7,19.4 40.5"]],
  ["North Macedonia", ["20.6 42.3,22.3 42.3,22.9 41.3,20.9 41"]],
  ["Bosnia", ["15.8 44.7,19 45,19.5 43.5,18.5 42.5"]],
  ["Belarus", ["23.9 51.6,31.8 52.1,31 55,28.2 56,26.6 55.7,24 53.9"]],
  ["Lithuania", ["21 55.2,21 56.3,25 56.3,26.6 55.7,24 53.9,22.8 54.4,22 55.3"]],
  ["Latvia", ["21 56.3,21.5 57.5,24.3 57.2,25 58,27.5 57.5,28.2 56,26.6 55.7,25 56.3"]],
  ["Estonia", ["23.5 59.2,28 59.5,27.5 57.5,25 58,24.3 58"]],
  ["Kazakhstan", ["47 50.2,51 51.7,55 51,59.6 50.6,61 54,65 54.4,68.5 55.2,71 55.3,76.5 54.3,77.8 53.3,80 50.8,83.4 51,85.5 49.6,87.3 49.2,85.7 47.2,83 47.2,82.5 45.2,80.5 45,80.2 42,76.5 43,71 42.8,70 41.5,68 41,66 43,61 44.5,58.5 45.5,56 45,56 41.3,54 42.3,52.5 42.7,53 45,50 44.8,51 46,49 46.5,46.8 48.4"]],
  ["Uzbekistan", ["56 45,58.5 45.5,61 44.5,66 43,68 41,71 42,73 40.8,71 40.2,68.5 40.2,67.7 37.2,66.5 37.3,64.5 39,61.7 41.3,58 42.7,56 41.3"]],
  ["Mongolia", ["87.3 49.2,92 50.7,98 52,102 51.3,102.2 50.5,106 50.3,110 49.2,114.3 50.3,116.7 49.8,115.7 47.9,119.8 47,117 46.6,112 44.8,110 42.7,105 41.6,100 42.6,96.3 42.7,95.5 44.3,90.7 45.2"]],
  ["North Korea", ["124.4 40,126.9 41.8,128 41.5,130.6 42.4,129.7 41,127.5 39.7,128.3 38.6,126.7 37.8,125 38,125.2 39.5"]],
  ["Laos", ["101 21.7,102.2 22.4,103 20.7,104.9 18.7,106.8 16.3,107.5 15,105.5 14.2,105.5 15.5,104.7 17.5,102 18,100 20.3"]],
  ["UAE", ["51.6 24,54 24.2,56.3 26,55.2 24,55.7 22,55 22.7"]],
  ["New Zealand", [
    "172.7 -34.5,174.5 -36,176 -37.5,178.5 -37.7,177 -39.5,175.3 -41.6,174.7 -39.8,174.7 -38.2,174.5 -37",
    "172.7 -40.6,174.2 -41.5,172.8 -43.7,171 -45,170.5 -46,168.5 -46.6,166.5 -46,168.5 -44,171 -42",
  ]],
  ["New Caledonia", ["164 -20.1,164.4 -20,167 -22.2,166.6 -22.4"]],
];

const noData: Shape[] = [
  ["Uruguay", ["-58.4 -33.5,-57.6 -30.2,-55.6 -30.9,-53.8 -32,-53.5 -33.7,-55 -34.9,-58 -34.4"]],
  ["Turkmenistan", ["52.5 42,54 42.3,56 41.3,58 42.7,61.7 41.3,64.5 39,66.5 37.3,64.5 37.2,61 36.5,56 38,53.8 36.9,53 39.5"]],
  ["Eritrea", ["36.5 14.3,38.5 18,39.5 15.5,43 12.5,42.4 12.5,40 14.5,38 14.5"]],
];

const notAvailable: Shape[] = [
  ["Western Sahara", ["-13.2 27.7,-8.7 27.7,-8.7 26,-12 26,-12 23.4,-13 21.3,-17 21.3,-16 23.7,-14.5 26"]],
  ["Kashmir", ["74 34.7,75.5 36,77.8 35.5,78.8 33,75 32.4,74.7 33"]],
];

const lakes = [
  "-92 46.7,-90 47.5,-88.5 48.4,-86 48,-84.8 47,-85 46.6,-87 46.5,-89.5 46.8",
  "-88 42,-87.2 41.7,-86.3 43,-85 45.8,-86.5 45.8,-87.7 44.5",
  "-84.6 46,-81.5 46,-80 44.6,-81.7 43.2,-82.6 43.2,-83.6 45",
  "-83.4 41.8,-79 42.7,-79 43,-81 42.8,-83 42.2",
  "-79.7 43.4,-76.2 43.5,-76.3 44.1,-78 44",
  "31.7 -1,32 .3,34 .3,34 -1.5,33 -2.5,32 -2.6",
  "29.2 -3.5,29.7 -3.5,30.9 -8.2,30.4 -8.2,29.2 -6",
  "34.2 -9.6,34.9 -11,35 -14,34.4 -13.5,34 -11.5",
  "58.4 46.5,61 46.6,61 45.2,59 44.5,58.4 45.4",
];

// the dotted stretch between Sudan and South Sudan
const dottedBorder = "24 8.7,27 9.6,32.5 12,33 10.8,34.3 10.5";

// [lon, lat] of the small states shown as rings
const islandRings = [
  [-171.8, -9], [-171.8, -13.5], [-172.2, -17.5], [-174.6, -19.2], [-169.8, -19.6], [-158.9, -20.6],
  [-24, 16.2], [3.9, 40], [7, 41.8], [6.7, .8], [56, -4.3], [43.9, -11.7], [55.5, -21], [57.5, -20.3],
  [134.4, 7], [149.7, 7.8], [171, 7], [167.7, -.2], [175, -.2], [162, -8.6], [178, -7.3],
];
const filledIslands = [[73, 4.7], [104, .6], [127, -10]];
const tinyIslands = [[167.5, -15.5], [168.4, -17.5], [177.8, -17.8], [179.6, -16.8]];

// Caribbean small states, ring position then the island it points to
const caribbeanRings = [[-60.1, 28.4], [-57.4, 26.4], [-55.3, 23.7], [-54, 20.6], [-54, 17.2], [-55, 14.5], [-56.4, 11.8], [-58.4, 10]];
const caribbeanAnchors = [[-66.2, 18.2], [-62.5, 17.9], [-61.8, 16.2], [-61.4, 15.5], [-61.1, 14.5], [-61.1, 13.1], [-61.8, 12.1], [-62.2, 11.1]];

const width = 1388;
const height = 665;

const x = d3.scaleLinear().domain([-180, 180]).range([277, 1334]);
const y = d3.scaleLinear().domain([0, 83.6]).range([395.5, 150]);
const shapeLine = d3
  .line<number[]>()
  .x((d) => x(d[0]))
  .y((d) => y(d[1]))
  .curve(d3.curveLinearClosed);
const openLine = d3
  .line<number[]>()
  .x((d) => x(d[0]))
  .y((d) => y(d[1]));

const parseRing = (ring: string) => ring.split(",").map((p) => p.trim().split(" ").map(Number));
const ringsPath = (rings: string[]) => rings.map((r) => shapeLine(parseRing(r))).join("");

// white countries first so the coloured ones keep the shared borders
const drawOrder: [Shape[], string][] = [
  [zeroCases, legendColors[4]],
  [noData, legendColors[5]],
  [over1, legendColors[3]],
  [over10, legendColors[2]],
  [over100, legendColors[1]],
  [notAvailable, legendColors[6]],
  [over1000, legendColors[0]],
];

const tableX = [11, 101, 191.5];
const rowY = d3.scaleLinear().domain([0, 10]).range([242, 490]);

// small WHO emblem, globe comes from a d3 orthographic projection
const Emblem = () => {
  const cx = 288;
  const cy = 621;
  const globe = d3.geoOrthographic().scale(14).translate([cx, cy]).rotate([-20, -25]).clipAngle(90);
  const globePath = d3.geoPath(globe);
  const leaves = d3.range(0, 9);
  const snake = d3
    .line<number[]>()
    .x((d) => d[0])
    .y((d) => d[1])
    .curve(d3.curveBasis)([
    [cx, cy + 14], [cx + 4, cy + 9], [cx - 4, cy + 4], [cx + 4, cy - 1], [cx - 4, cy - 6], [cx + 3, cy - 11], [cx - 1, cy - 14],
  ]);
  return (
    <g stroke="#333" fill="none">
      <path d={globePath({ type: "Sphere" }) || ""} strokeWidth={0.8} />
      <path d={globePath(d3.geoGraticule().step([30, 30])()) || ""} strokeWidth={0.5} />
      {[-1, 1].map((side) =>
        leaves.map((i) => {
          const a = ((-68 + i * 19) * Math.PI) / 180;
          const lx = cx + side * 20.5 * Math.cos(a);
          const ly = cy + 2 + 20.5 * Math.sin(a);
          return (
            <ellipse
              key={`${side}-${i}`}
              cx={lx}
              cy={ly}
              rx={1.3}
              ry={4.2}
              fill="#555"
              stroke="none"
              transform={`rotate(${(side * (a * 180)) / Math.PI + side * 25} ${lx} ${ly})`}
            />
          );
        })
      )}
      <line x1={cx} x2={cx} y1={cy - 21} y2={cy + 19} strokeWidth={1.4} />
      <path d={snake || ""} strokeWidth={1.4} />
    </g>
  );
};

const App = () => {
  const barScale = d3.scaleLinear().domain([0, 3500]).range([1190, 1284]);
  const cellText = { fontFamily: "Lato", fontSize: 14.4, fill: "#1c1c1c" };
  const headText = { fontFamily: "Lato", fontWeight: 700, fontSize: 15.4, fill: "#fff", textAnchor: "middle" as const };
  return (
    <svg
      width={width}
      height={height}
      viewBox={`0 0 ${width} ${height}`}
      style={{ position: "absolute", left: 0, top: 0, display: "block", background: "#fff" }}
    >
      <defs>
        <clipPath id="legendClip">
          <rect x={255} y={479.5} width={220} height={90} />
        </clipPath>
      </defs>

      <text
        x={690}
        y={61}
        textAnchor="middle"
        fontFamily="Lato"
        fontWeight={700}
        fontSize={37.7}
        fill="#0d1f66"
        stroke="#0d1f66"
        strokeWidth={0.9}
      >
        Number of Reported Measles Cases (6M period)
      </text>
      <rect x={0} y={92} width={width} height={3} fill="#3f80ad" />

      {/* top 10 table */}
      <g>
        <rect x={tableX[0]} y={182} width={tableX[2] - tableX[0]} height={60} fill="#1e5582" />
        {topCountries.map((c, i) => (
          <g key={c}>
            <rect
              x={tableX[0]}
              y={rowY(i)}
              width={tableX[2] - tableX[0]}
              height={rowY(1) - rowY(0)}
              fill={i % 2 ? "#eeeeee" : "#ffffff"}
            />
            <text x={tableX[1] - 5} y={rowY(i) + 18} textAnchor="end" {...cellText}>
              {c}
            </text>
            <text x={tableX[2] - 6} y={rowY(i) + 18} textAnchor="end" {...cellText}>
              {topCases[i]}
            </text>
          </g>
        ))}
        <text x={101} y={203} {...headText}>
          Top 10*
        </text>
        <text x={56} y={233} {...headText}>
          Country
        </text>
        <text x={146} y={233} {...headText}>
          Cases
        </text>
        <g stroke="#15181c" strokeWidth={1.6}>
          {d3.range(0, 11).map((i) => (
            <line key={i} x1={tableX[0]} x2={tableX[2]} y1={rowY(i)} y2={rowY(i)} />
          ))}
          <line x1={tableX[0]} x2={tableX[2]} y1={182} y2={182} />
          <line x1={tableX[0]} x2={tableX[2]} y1={212} y2={212} />
          <line x1={tableX[0]} x2={tableX[0]} y1={182} y2={490} />
          <line x1={tableX[2]} x2={tableX[2]} y1={182} y2={490} />
          <line x1={tableX[1]} x2={tableX[1]} y1={212} y2={490} />
        </g>
      </g>

      {/* map */}
      <g strokeLinejoin="round">
        {drawOrder.map(([shapes, fill]) =>
          shapes.map(([name, rings]) => (
            <path
              key={name}
              d={ringsPath(rings)}
              fill={fill}
              stroke={fill === "#ffffff" || fill === "#efefef" ? "#6a6a6a" : "#4a2a24"}
              strokeWidth={fill === "#ffffff" ? 0.7 : 0.5}
            >
              <title>{name}</title>
            </path>
          ))
        )}
        {lakes.map((l, i) => (
          <path key={i} d={shapeLine(parseRing(l)) || ""} fill="#fff" stroke="#4a2a24" strokeWidth={0.4} />
        ))}
        <path d={openLine(parseRing(dottedBorder)) || ""} fill="none" stroke="#fff" strokeWidth={0.9} strokeDasharray="1 1.6" />
        {caribbeanRings.map((d, i) => (
          <line
            key={i}
            x1={x(d[0])}
            y1={y(d[1])}
            x2={x(caribbeanAnchors[i][0])}
            y2={y(caribbeanAnchors[i][1])}
            stroke="#555"
            strokeWidth={0.6}
          />
        ))}
        {[...islandRings, ...caribbeanRings].map((d, i) => (
          <circle key={i} cx={x(d[0])} cy={y(d[1])} r={2.6} fill="#fff" stroke="#555" strokeWidth={0.7} />
        ))}
        {filledIslands.map((d, i) => (
          <circle key={i} cx={x(d[0])} cy={y(d[1])} r={2.6} fill={legendColors[3]} stroke="#7a4a3c" strokeWidth={0.5} />
        ))}
        {tinyIslands.map((d, i) => (
          <circle key={i} cx={x(d[0])} cy={y(d[1])} r={1} fill="#fff" stroke="#555" strokeWidth={0.6} />
        ))}
      </g>

      {/* legend */}
      <g clipPath="url(#legendClip)" fontFamily="Liberation Sans" fontSize={10.5} fill="#333">
        {legendLabels.map((label, i) => (
          <g key={label}>
            <rect
              x={266}
              y={477 + i * 12.65}
              width={8}
              height={6.5}
              fill={legendColors[i]}
              stroke="#666"
              strokeWidth={0.5}
            />
            <text x={283} y={484.5 + i * 12.65}>
              {label}
            </text>
          </g>
        ))}
      </g>

      {/* footer */}
      <Emblem />
      <g fontFamily="Liberation Sans" fontSize={16} fill="#333" stroke="#333" strokeWidth={0.25}>
        <text x={317} y={620} textLength={90} lengthAdjust="spacingAndGlyphs">World Health</text>
        <text x={317} y={637} textLength={90} lengthAdjust="spacingAndGlyphs">Organization</text>
      </g>
      <g fontFamily="Liberation Sans" fontSize={10.4} fill="#111">
        <text x={438} y={617} fontWeight={700}>Map production:</text>
        <text x={438} y={630} fontWeight={700}>Data source:</text>
        <text x={527} y={617}>World Health Organization, WHO, 2017. All rights reserved</text>
        <text x={527} y={630}>IVB Database</text>
        <text x={835} y={615} fontWeight={700} fontSize={10.4}>Disclaimer:</text>
        {disclaimerLines.map((t, i) => (
          <text key={i} x={835} y={625 + i * 10} fontSize={7.6} fill="#222">
            {t}
          </text>
        ))}
      </g>

      {/* scale bar */}
      <g>
        <rect x={barScale(0)} y={593} width={barScale(3500) - barScale(0)} height={6} fill="#000" />
        {d3.pairs(scaleBarTicks).map(([a, b], i) =>
          i % 2 === 1 && i < 4 ? (
            <rect key={i} x={barScale(a)} y={594} width={barScale(b) - barScale(a)} height={4} fill="#fff" />
          ) : null
        )}
        {scaleBarLabels.map((label, i) => (
          <text
            key={label}
            x={barScale(scaleBarLabelKm[i]) - (i === 3 ? 13 : i === 0 ? 2 : 7)}
            y={588}
            fontFamily="Open Sans"
            fontWeight={700}
            fontSize={6.8}
            fill="#222"
          >
            {label}
          </text>
        ))}
      </g>
    </svg>
  );
};

export default App;
